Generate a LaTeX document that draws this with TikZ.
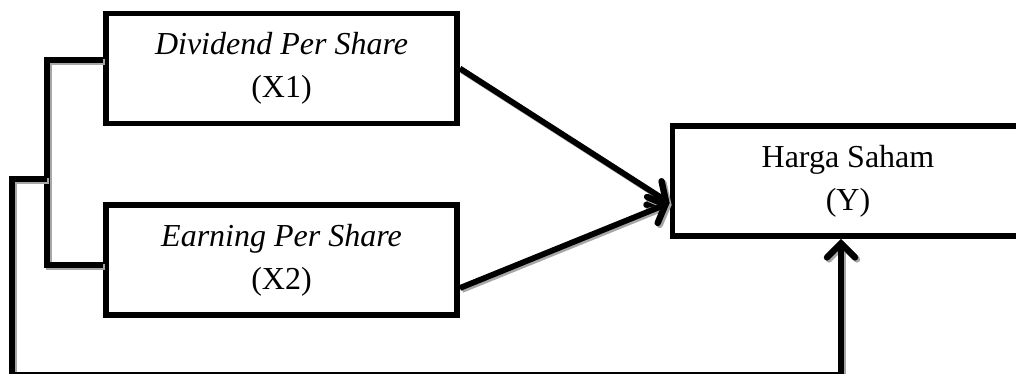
\documentclass[tikz,border=0pt]{standalone}
\usepackage{fontspec}
\setmainfont{Liberation Serif}
\usetikzlibrary{arrows.meta}
\begin{document}
\begin{tikzpicture}[x=0.5pt,y=-0.5pt,line width=2.9pt,
  box/.style={draw,rectangle,minimum width=175.5pt,minimum height=55pt,
    align=center,inner sep=0pt,font=\fontsize{16}{21.5}\selectfont},
  shade/.style={preaction={draw=black!35,transform canvas={shift={(1pt,-1pt)}}}},
  conn/.style={shade,line join=miter},
  tip/.style={-{Straight Barb[length=7pt,width=14pt,line width=3.2pt,line cap=round]}}]
\useasboundingbox (0,0) rectangle (1016,374);
% variables and outcome
\node[box] (x1) at (281.5,68.5) {\textit{Dividend Per Share}\\(X1)};
\node[box] (x2) at (281.5,260) {\textit{Earning Per Share}\\(X2)};
\node[box] (y) at (848,181) {Harga Saham\\(Y)};
% bracket joining X1 and X2
\coordinate (top) at (47,60);
\coordinate (bot) at (47,265);
\coordinate (jn) at (47,179);
\coordinate (base) at (841,375);
\draw[conn] (top -| x1.west) -- (top) -- (bot) -- (bot -| x2.west);
% simultaneous effect
\draw[conn,tip] (jn) -- ++(-35,0) |- (base) -- (base |- y.south);
% partial effects
\draw[conn,tip] (x1.east) -- ([yshift=-11pt]y.west);
\draw[conn,tip] ([yshift=-14pt]x2.east) -- ([yshift=-11pt]y.west);
\end{tikzpicture}
\end{document}
